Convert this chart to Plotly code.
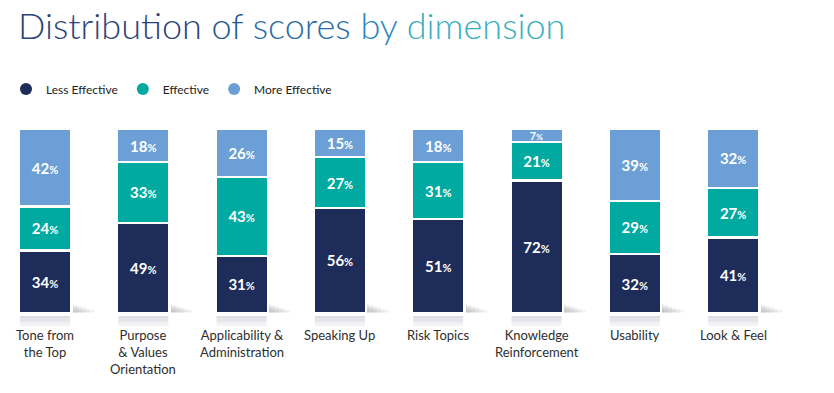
import plotly.graph_objects as go

categories = ["Tone from<br>the Top", "Purpose<br>& Values<br>Orientation", "Applicability &<br>Administration",
              "Speaking Up", "Risk Topics", "Knowledge<br>Reinforcement", "Usability", "Look & Feel"]
less_effective = [34, 49, 31, 56, 51, 72, 32, 41]
effective = [24, 33, 43, 27, 31, 21, 29, 27]
more_effective = [42, 18, 26, 15, 18, 7, 39, 32]

series = [
    ("Less Effective", less_effective, "#1d2c58"),
    ("Effective", effective, "#00aaa0"),
    ("More Effective", more_effective, "#6b9fd5"),
]

# page body adds an 8px offset, so layout pixels are shifted by -8
OFF = 8
W, H = 834, 393
PX_PER_PCT = 184 / 100
EXTRA = 13  # px below the bars kept inside the plot area for the reflection
MT = 129 - OFF
MB = H - (313 + EXTRA - OFF)
ML, MR = 0, 0
y_min = -EXTRA / PX_PER_PCT
xpos = list(range(len(categories)))
px_per_unit = 98.3
x0 = -(45 - OFF) / px_per_unit
x1 = x0 + W / px_per_unit
bar_w = 52.5 / px_per_unit

fig = go.Figure()
for name, vals, color in series:
    sizes = [15 if v >= 10 else 11 for v in vals]
    pct = [11 if v >= 10 else 8 for v in vals]
    txt = [f"<b>{v}</b><span style='font-size:{p}px'><b>%</b></span>" for v, p in zip(vals, pct)]
    fig.add_trace(go.Bar(
        x=xpos, y=vals, width=bar_w, name=name, showlegend=False,
        marker=dict(color=color, line=dict(color="white", width=2.5)),
        text=txt, textposition="inside", insidetextanchor="middle", constraintext="none",
        textfont=dict(family="Lato", size=sizes, color="white"),
        hoverinfo="skip",
    ))
    fig.add_trace(go.Scatter(
        x=[None], y=[None], mode="markers", name=name,
        marker=dict(color=color, size=9, symbol="circle"), showlegend=True,
    ))

shapes = []
half = 50 / px_per_unit / 2
for xi in xpos:
    # reflection under each bar (fading downwards)
    for k, col in enumerate(["#dcdde4", "#e3e4e9", "#ebecf0", "#f3f3f6"]):
        shapes.append(dict(type="rect", xref="x", yref="y",
                           x0=xi - half, x1=xi + half,
                           y0=-(3 + 2.5 * k) / PX_PER_PCT, y1=-(5.5 + 2.5 * k) / PX_PER_PCT,
                           fillcolor=col, line=dict(width=0), layer="above"))
    # soft shadow to the right of bar bottom
    for k in range(6):
        shapes.append(dict(type="rect", xref="x", yref="y",
                           x0=xi + half, x1=xi + half + (4 + 4 * k) / px_per_unit,
                           y0=0.5 / PX_PER_PCT, y1=(9 - 1.2 * k) / PX_PER_PCT,
                           fillcolor="#7d7d85", line=dict(width=0), opacity=0.09, layer="below"))

annotations = []
for xi, lab in zip(xpos, categories):
    annotations.append(dict(x=xi, y=0, xref="x", yref="y", text=lab, showarrow=False,
                            yanchor="top", yshift=-12, align="center",
                            font=dict(family="Lato", size=13, color="#2e2e2e")))

# title with per-word colour gradient
title_words = ["Distribution", "of", "scores", "by", "dimension"]
title_colors = ["#2d4279", "#24588f", "#2a6da6", "#2d86bd", "#3aaebf"]
title_html = " ".join(f"<span style='color:{c}'>{w}</span>" for w, c in zip(title_words, title_colors))

plot_h = H - MT - MB
fig.update_layout(
    width=W, height=H,
    margin=dict(l=ML, r=MR, t=MT, b=MB, autoexpand=False),
    paper_bgcolor="white", plot_bgcolor="rgba(0,0,0,0)",
    barmode="stack", barnorm="percent",
    title=dict(text=title_html, x=10 / W, xanchor="left", y=1 - 6 / H, yanchor="top",
               font=dict(family="Lato", size=36, weight=300)),
    xaxis=dict(range=[x0, x1], visible=False),
    yaxis=dict(range=[y_min, 100], visible=False),
    legend=dict(orientation="h", x=-2 / W, xanchor="left", y=1 + 40 / plot_h, yanchor="middle",
                font=dict(family="Lato", size=12, color="#222222"),
                itemsizing="constant", traceorder="normal"),
    shapes=shapes, annotations=annotations,
)

fig.write_html("out.html")
